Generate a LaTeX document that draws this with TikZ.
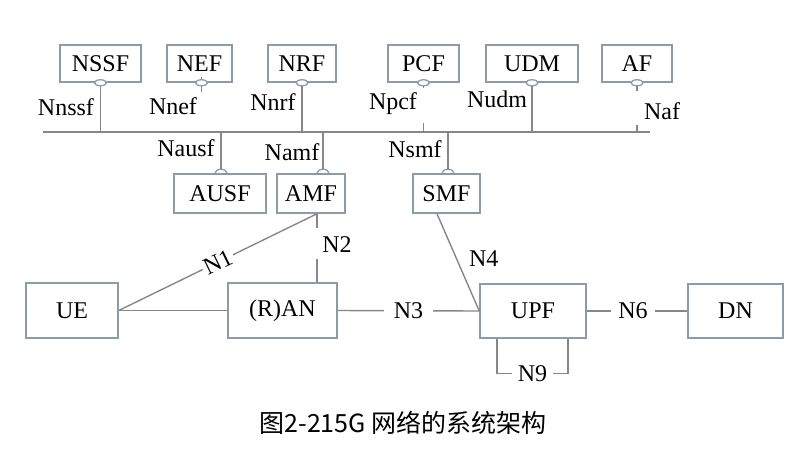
\documentclass[tikz,border=0pt]{standalone}
\usepackage{fontspec}
\setmainfont{Liberation Serif}
\newfontfamily\cjk{Noto Sans CJK SC}
\usetikzlibrary{calc}
\definecolor{boxgray}{RGB}{140, 155, 170}
\definecolor{linegray}{RGB}{135, 135, 135}

\begin{document}
\begin{tikzpicture}[x=1pt, y=-1pt,
    nf/.style={draw=boxgray, line width=1.5pt, minimum height=37pt, inner sep=0pt, font=\fontsize{24}{28}\selectfont},
    lab/.style={inner sep=2pt, font=\fontsize{24}{28}\selectfont},
    link/.style={draw=linegray, line width=1.4pt},
    sbi/.style={draw=boxgray, line width=1.3pt, fill=white}]
            \useasboundingbox (0,0) rectangle (809,448);

            % Funciones de red (arriba)
            \node[nf, minimum width=81pt] (nssf) at (100.5,63.5) {NSSF};
            \node[nf, minimum width=65pt] (nef) at (199.5,63.5) {NEF};
            \node[nf, minimum width=68pt] (nrf) at (302,63.5) {NRF};
            \node[nf, minimum width=71pt] (pcf) at (423.5,63.5) {PCF};
            \node[nf, minimum width=92pt] (udm) at (532,63.5) {UDM};
            \node[nf, minimum width=70pt] (af) at (637,63.5) {AF};

            % Bus de servicios
            \coordinate (busL) at (43,132);
            \coordinate (busR) at (650,132);
            \draw[link] (busL) -- (busR);

            \draw[link] (nssf.south) -- (nssf.south |- busL);
            \draw[link] ($(nef.south)+(2,0)$) -- ++(0,9);
            \draw[link] ($(nef.south)+(2,0)$ |- busL) -- ++(0,-6);
            \draw[link] (nrf.south) -- (nrf.south |- busL);
            \draw[link] (pcf.south) -- ++(0,5);
            \draw[link] (pcf.south |- busL) -- ++(0,-9);
            \draw[link] (udm.south) -- (udm.south |- busL);
            \draw[link] (af.south) -- ++(0,8);
            \draw[link] (af.south |- busL) -- ++(0,-7);
            \draw[sbi] (nssf.south) ellipse [x radius=6pt, y radius=3pt];
            \draw[sbi] ($(nef.south)+(2,0)$) ellipse [x radius=6pt, y radius=3pt];
            \draw[sbi] (nrf.south) ellipse [x radius=6pt, y radius=3pt];
            \draw[sbi] (pcf.south) ellipse [x radius=6pt, y radius=3pt];
            \draw[sbi] (udm.south) ellipse [x radius=6pt, y radius=3pt];
            \draw[sbi] (af.south) ellipse [x radius=6pt, y radius=3pt];

            \node[lab] (nnssf) at (66,107) {Nnssf};
            \node[lab] (nnef) at (173,106) {Nnef};
            \node[lab] (nnrf) at (273,102) {Nnrf};
            \node[lab] (npcf) at (393,104) {Npcf};
            \node[lab] (nudm) at (497,99) {Nudm};
            \node[lab] (naf) at (662,111) {Naf};

            % Funciones de red (abajo)
            \node[nf, minimum width=92pt, minimum height=39pt] (ausf) at (220,193.5) {AUSF};
            \node[nf, minimum width=68pt, minimum height=39pt] (amf) at (311,193.5) {AMF};
            \node[nf, minimum width=67pt, minimum height=39pt] (smf) at (446.5,193.5) {SMF};

            \coordinate (ausfs) at ($(ausf.north)+(1,-4)$);
            \coordinate (amfs) at ($(amf.north)+(12,-4)$);
            \coordinate (smfs) at ($(smf.north)+(1.5,-4)$);
            \draw[link] (ausfs |- busL) -- (ausfs);
            \draw[link] (amfs |- busL) -- (amfs);
            \draw[link] (smfs |- busL) -- (smfs);
            \draw[sbi, fill=none] ($(ausfs)+(-6,4)$) arc[start angle=180, end angle=0, x radius=6pt, y radius=4pt];
            \draw[sbi, fill=none] ($(amfs)+(-6,4)$) arc[start angle=180, end angle=0, x radius=6pt, y radius=4pt];
            \draw[sbi, fill=none] ($(smfs)+(-6,4)$) arc[start angle=180, end angle=0, x radius=6pt, y radius=4pt];

            \node[lab] (nausf) at (186,148) {Nausf};
            \node[lab] (namf) at (292,152) {Namf};
            \node[lab] (nsmf) at (415,149) {Nsmf};

            % Plano de usuario
            \node[nf, minimum width=92pt, minimum height=55pt] (ue) at (72,310.5) {UE};
            \node[nf, minimum width=109pt, minimum height=55pt] (ran) at (282.5,310.5) {(R)AN};
            \node[nf, minimum width=106pt, minimum height=54pt] (upf) at (533,311) {UPF};
            \node[nf, minimum width=95pt, minimum height=54pt] (dn) at (735.5,311) {DN};

            \coordinate (amfb) at ($(amf.south)+(6,0)$);
            \draw[link] (ue.east) -- node[lab, sloped, fill=white] {N1} (amfb);
            \draw[link] (ue.east) -- (ran.west);
            \draw[link] (amfb) -- ++(0,14);
            \draw[link] (amfb |- ran.north) -- ++(0,-23);
            \node[lab] (n2) at (337,245) {N2};
            \draw[link] (ran.east) -- node[lab, fill=white, inner xsep=10pt] {N3} (upf.west);
            \draw[link] ($(smf.south)+(-9.5,0)$) -- node[lab, pos=0.46, right=10pt] {N4} (upf.west);
            \draw[link] (upf.east) -- node[lab, pos=0.46, fill=white, inner xsep=7pt] {N6} (dn.west);
            \coordinate (n9l) at ($(upf.south)+(-36,35)$);
            \coordinate (n9r) at ($(upf.south)+(35,35)$);
            \draw[link] ($(upf.south)+(-36,0)$) -- (n9l) -- node[lab, fill=white, inner xsep=6pt] {N9} (n9r) -- ($(upf.south)+(35,0)$);

            % Pie de figura
            \node[font=\cjk\fontsize{25}{30}\selectfont] (cap) at (403,423) {图2-215G 网络的系统架构};
\end{tikzpicture}
\end{document}
